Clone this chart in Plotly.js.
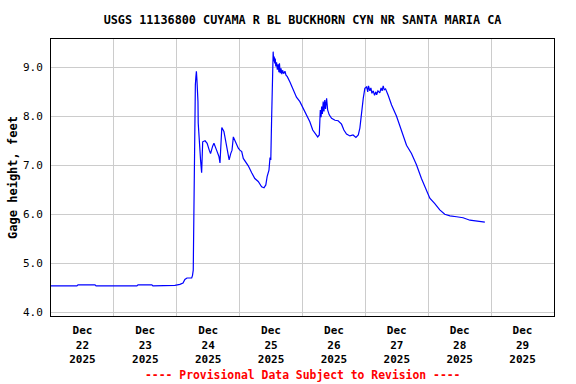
<!DOCTYPE html>
<html>
<head>
<meta charset="utf-8">
<script src="https://cdn.plot.ly/plotly-3.0.1.min.js"></script>
<style>html,body{margin:0;padding:0;background:#fff;}#chart{width:576px;height:384px;}</style>
</head>
<body>
<div id="chart"></div>
<script>
const chartTitle = "USGS 11136800 CUYAMA R BL BUCKHORN CYN NR SANTA MARIA CA";
const yTitle = "Gage height, feet";
const footer = "---- Provisional Data Subject to Revision ----";

const times = [
"2025-12-22 00:00","2025-12-22 09:54","2025-12-22 10:18","2025-12-22 16:48","2025-12-22 17:12",
"2025-12-23 08:48","2025-12-23 09:12","2025-12-23 14:30","2025-12-23 14:54","2025-12-23 21:24","2025-12-23 23:18",
"2025-12-24 01:12","2025-12-24 02:24","2025-12-24 03:06","2025-12-24 03:54","2025-12-24 05:42","2025-12-24 06:00",
"2025-12-24 06:18","2025-12-24 06:42","2025-12-24 07:06","2025-12-24 07:18","2025-12-24 07:30","2025-12-24 07:42",
"2025-12-24 07:54","2025-12-24 08:06","2025-12-24 08:12","2025-12-24 08:36","2025-12-24 09:06","2025-12-24 09:30",
"2025-12-24 09:54","2025-12-24 10:48","2025-12-24 11:36","2025-12-24 12:24","2025-12-24 12:54","2025-12-24 13:42",
"2025-12-24 14:12","2025-12-24 15:12","2025-12-24 16:06","2025-12-24 16:30","2025-12-24 16:54","2025-12-24 17:12",
"2025-12-24 18:00","2025-12-24 18:48","2025-12-24 19:42","2025-12-24 20:00","2025-12-24 20:36","2025-12-24 21:06",
"2025-12-24 21:36","2025-12-24 22:06","2025-12-24 22:54","2025-12-24 23:30",
"2025-12-25 00:06","2025-12-25 00:48","2025-12-25 01:24","2025-12-25 02:24","2025-12-25 03:18","2025-12-25 04:36",
"2025-12-25 05:48","2025-12-25 07:06","2025-12-25 08:24","2025-12-25 09:18","2025-12-25 10:00","2025-12-25 10:30",
"2025-12-25 11:12","2025-12-25 11:36","2025-12-25 11:54","2025-12-25 12:12","2025-12-25 12:24","2025-12-25 12:48",
"2025-12-25 13:00","2025-12-25 13:12","2025-12-25 13:24","2025-12-25 13:36","2025-12-25 13:48","2025-12-25 14:06",
"2025-12-25 14:24","2025-12-25 14:42","2025-12-25 15:00","2025-12-25 15:12","2025-12-25 15:30","2025-12-25 15:48",
"2025-12-25 16:06","2025-12-25 16:24","2025-12-25 16:48","2025-12-25 17:18","2025-12-25 17:42","2025-12-25 18:12",
"2025-12-25 19:12","2025-12-25 20:30","2025-12-25 21:42","2025-12-25 23:00",
"2025-12-26 00:18","2025-12-26 01:36","2025-12-26 02:48","2025-12-26 03:54","2025-12-26 04:42","2025-12-26 05:48",
"2025-12-26 06:24","2025-12-26 06:48","2025-12-26 07:06","2025-12-26 07:18","2025-12-26 07:36","2025-12-26 07:54",
"2025-12-26 08:12","2025-12-26 08:30","2025-12-26 08:48","2025-12-26 09:12","2025-12-26 09:36",
"2025-12-26 10:12","2025-12-26 11:06","2025-12-26 12:24","2025-12-26 13:36","2025-12-26 14:54",
"2025-12-26 15:48","2025-12-26 16:48","2025-12-26 18:06","2025-12-26 19:18","2025-12-26 20:24","2025-12-26 21:18",
"2025-12-26 21:54","2025-12-26 22:36","2025-12-26 23:12","2025-12-26 23:48",
"2025-12-27 00:30","2025-12-27 00:54","2025-12-27 01:12","2025-12-27 01:42","2025-12-27 02:06","2025-12-27 02:30",
"2025-12-27 03:00","2025-12-27 03:30","2025-12-27 04:00","2025-12-27 04:18","2025-12-27 04:48","2025-12-27 05:30",
"2025-12-27 06:00","2025-12-27 06:24","2025-12-27 06:48","2025-12-27 07:12","2025-12-27 07:42",
"2025-12-27 08:42","2025-12-27 10:00","2025-12-27 11:54","2025-12-27 13:48","2025-12-27 15:42",
"2025-12-27 17:36","2025-12-27 19:30","2025-12-27 21:24","2025-12-27 23:24",
"2025-12-28 00:36","2025-12-28 02:30","2025-12-28 04:24","2025-12-28 06:18","2025-12-28 08:18","2025-12-28 10:48",
"2025-12-28 13:18","2025-12-28 15:54","2025-12-28 18:24","2025-12-28 21:36"
];

const gageHeight = [
4.54,4.54,4.56,4.56,4.54,
4.54,4.56,4.56,4.54,4.54,4.55,
4.57,4.60,4.67,4.70,4.70,4.75,
4.86,7.70,8.64,8.80,8.92,8.75,
8.60,8.30,7.86,7.38,7.10,6.85,
7.48,7.50,7.45,7.31,7.24,7.39,
7.45,7.31,7.18,7.05,7.52,7.77,
7.69,7.45,7.24,7.11,7.24,7.31,
7.58,7.52,7.41,7.35,
7.31,7.28,7.14,7.07,6.99,6.85,
6.73,6.67,6.56,6.54,6.60,6.77,
6.90,7.16,7.11,7.92,8.60,9.32,
9.12,9.22,9.08,9.18,9.02,9.10,
8.95,9.06,8.90,9.08,8.88,8.98,
8.86,8.94,8.87,8.92,8.84,8.81,
8.70,8.54,8.39,8.30,
8.16,8.03,7.89,7.72,7.65,7.58,
7.62,8.13,7.98,8.20,8.05,8.30,
8.10,8.33,8.15,8.37,8.13,
8.03,7.96,7.92,7.91,7.84,
7.72,7.64,7.60,7.62,7.57,7.62,
7.76,8.13,8.37,8.57,
8.60,8.50,8.62,8.52,8.58,8.47,
8.52,8.43,8.50,8.44,8.52,8.48,
8.58,8.52,8.62,8.54,8.56,
8.43,8.23,8.00,7.69,7.41,
7.24,7.01,6.73,6.46,
6.33,6.22,6.09,6.00,5.97,5.95,
5.93,5.88,5.86,5.84
];

const xRange = ["2025-12-22 00:00", "2025-12-30 00:00"];
const yRange = [3.925, 9.578];

const mono = "DejaVu Sans Mono, monospace";

const trace = {
  x: times, y: gageHeight, type: "scatter", mode: "lines",
  line: {color: "#0000ff", width: 1.2}, hoverinfo: "skip"
};

const layout = {
  width: 576, height: 384,
  margin: {l: 51, r: 22, t: 39, b: 68},
  paper_bgcolor: "#ffffff", plot_bgcolor: "#ffffff",
  showlegend: false,
  title: {
    text: "<b>" + chartTitle + "</b>",
    font: {family: mono, size: 11.8, color: "#000"},
    x: 0.5, xref: "paper", y: 1 - 20/384, yref: "container", yanchor: "middle"
  },
  xaxis: {
    type: "date", range: xRange, tick0: "2025-12-22", dtick: 86400000,
    ticklabelmode: "period", tickformat: "<b>%b</b><br><b>%d</b><br><b>%Y</b>",
    tickfont: {family: mono, size: 11, color: "#000"},
    showgrid: true, gridcolor: "#cccccc", gridwidth: 1,
    showline: true, linecolor: "#000", linewidth: 1, mirror: true,
    ticks: "outside", ticklen: 4, tickcolor: "rgba(0,0,0,0)",
    zeroline: false, automargin: false
  },
  yaxis: {
    range: yRange, tick0: 4, dtick: 1, tickformat: ".1f",
    tickfont: {family: mono, size: 11, color: "#000"},
    showgrid: true, gridcolor: "#cccccc", gridwidth: 1,
    showline: true, linecolor: "#000", linewidth: 1, mirror: true,
    ticks: "outside", ticklen: 5, tickcolor: "rgba(0,0,0,0)",
    zeroline: false, automargin: false,
    title: {text: "<b>" + yTitle + "</b>", font: {family: mono, size: 12, color: "#000"}}
  },
  annotations: [{
    text: "<b>" + footer + "</b>", xref: "paper", yref: "paper",
    x: 0.5, y: -(375 - 316) / 277, xanchor: "center", yanchor: "middle",
    showarrow: false, font: {family: mono, size: 11.4, color: "#ff0000"}
  }]
};

Plotly.newPlot("chart", [trace], layout, {staticPlot: true, displayModeBar: false});
</script>
</body>
</html>
